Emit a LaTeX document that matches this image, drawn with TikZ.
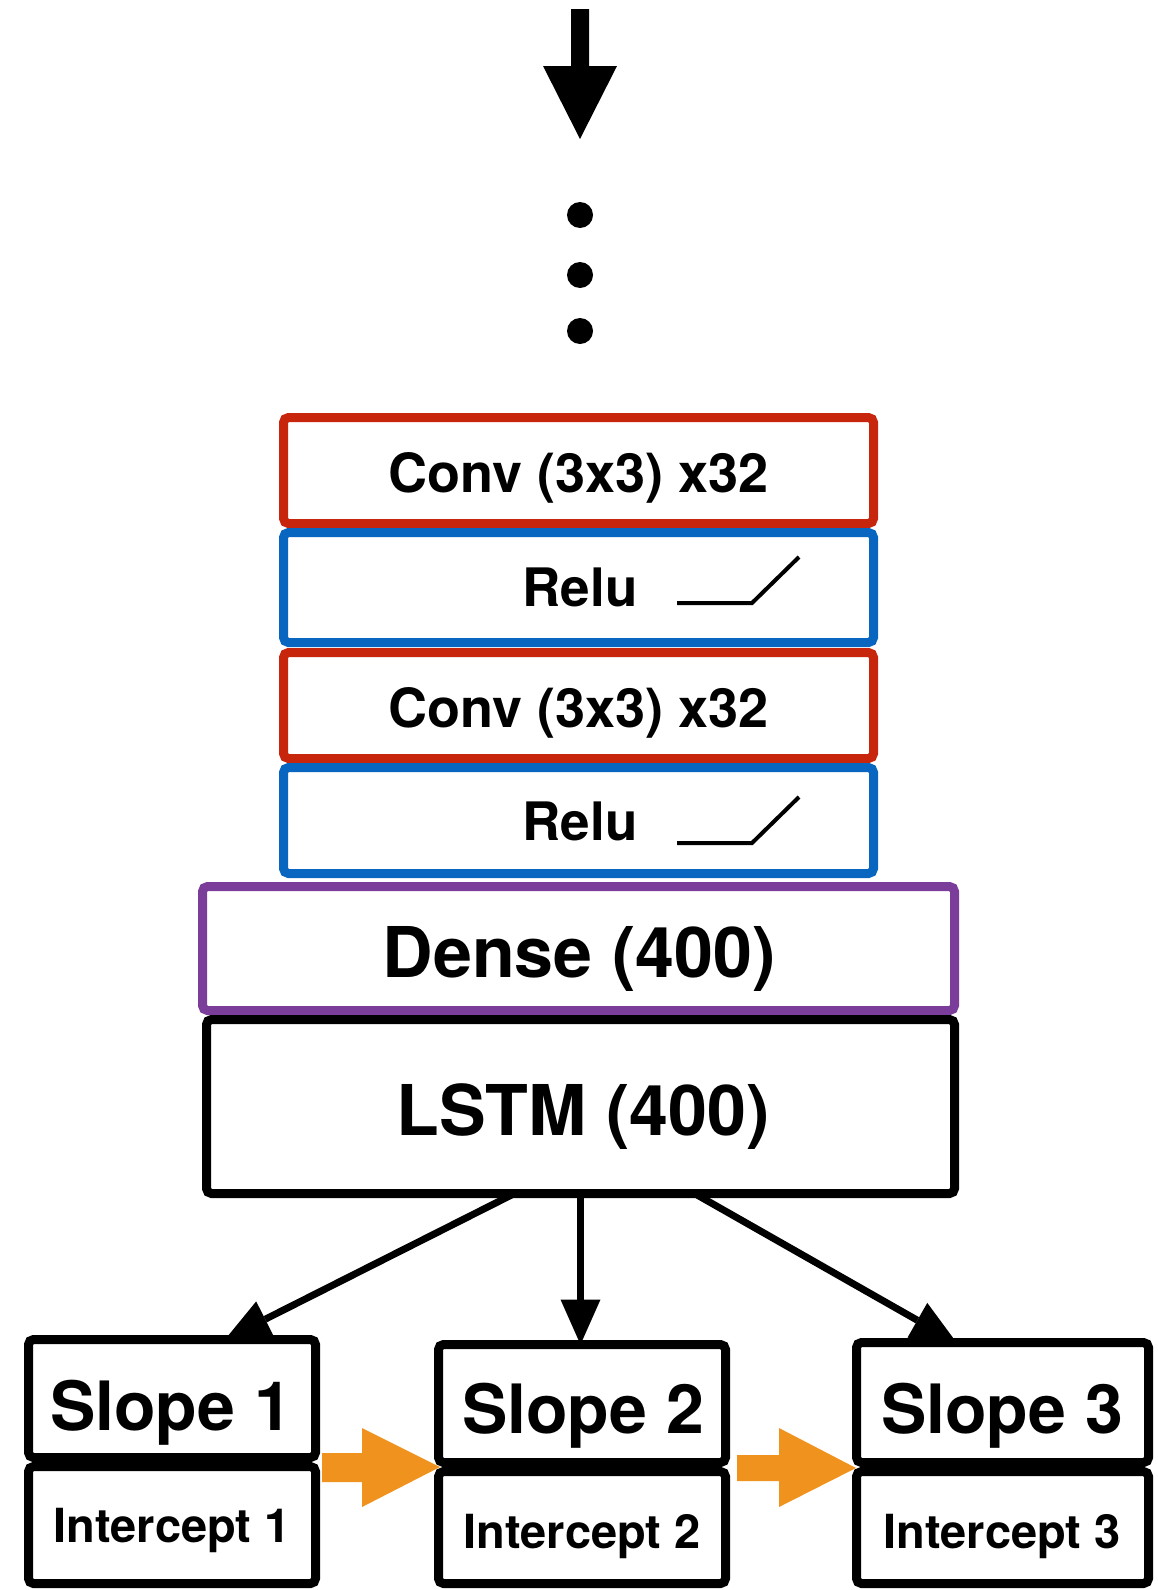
\documentclass[tikz,border=0pt]{standalone}
\usepackage{fontspec}
\setmainfont{TeX Gyre Heros}
\usetikzlibrary{arrows.meta,calc}
\definecolor{convred}{RGB}{200,38,12}
\definecolor{relublue}{RGB}{8,102,192}
\definecolor{densepurple}{RGB}{122,62,154}
\definecolor{flowor}{RGB}{240,147,30}
\newcommand\setfs[1]{\fontsize{#1}{#1}\selectfont\bfseries}
\begin{document}
\begin{tikzpicture}[x=1pt,y=-1pt,
 layer/.style={draw, line width=9pt, rounded corners=5pt, fill=white, inner sep=0pt, outer sep=0pt},
 lbl/.style={anchor=base, inner sep=0pt, outer sep=0pt},
 conn/.style={line width=7pt, -{Triangle[width=40pt,length=45pt,line width=0pt]}},
 relusym/.style={line width=4pt},
 dotn/.style={circle, fill=black, inner sep=0pt, minimum size=26pt},
 flow/.style={fill=flowor},
]
\path[use as bounding box] (0,0) rectangle (1157,1590);

% top arrow and dots
\coordinate (topin) at (580,9);
\fill (topin) ++(-9,0) -- ++(18,0) -- ++(0,57) -- ++(28,0) -- ++(-37,73) -- ++(-37,-73) -- ++(28,0) -- cycle;
\node[dotn] (d1) at (580,215) {};
\node[dotn] (d2) at (580,275) {};
\node[dotn] (d3) at (580,331) {};

% layer boxes
\node[layer, draw=convred, minimum width=590pt, minimum height=106pt] (conv1) at (578.5,470.5) {};
\node[layer, draw=relublue, minimum width=590pt, minimum height=110pt] (relu1) at (578.5,587.5) {};
\node[layer, draw=convred, minimum width=590pt, minimum height=106pt] (conv2) at (578.5,705.5) {};
\node[layer, draw=relublue, minimum width=590pt, minimum height=106pt] (relu2) at (578.5,820.5) {};
\node[layer, draw=densepurple, minimum width=752pt, minimum height=124pt] (dense) at (578.5,948.5) {};
\node[layer, draw=black, minimum width=748pt, minimum height=174pt] (lstm) at (580.5,1106.5) {};

\node[layer, draw=black, minimum width=287pt, minimum height=118pt] (slope1) at (172,1398.5) {};
\node[layer, draw=black, minimum width=287pt, minimum height=117pt] (int1) at (172,1525) {};
\node[layer, draw=black, minimum width=287pt, minimum height=118pt] (slope2) at (582,1403.5) {};
\node[layer, draw=black, minimum width=287pt, minimum height=112pt] (int2) at (582,1527.5) {};
\node[layer, draw=black, minimum width=292pt, minimum height=120pt] (slope3) at (1002.5,1402.5) {};
\node[layer, draw=black, minimum width=292pt, minimum height=112pt] (int3) at (1002.5,1527.5) {};

% labels
\node[lbl, font=\setfs{54}] (tconv1) at (578.5,492) {Conv (3x3) x32};
\node[lbl, font=\setfs{53}] (trelu1) at (580,606) {Relu};
\node[lbl, font=\setfs{54}] (tconv2) at (578.5,727) {Conv (3x3) x32};
\node[lbl, font=\setfs{53}] (trelu2) at (580,840) {Relu};
\node[lbl, font=\setfs{70}] (tdense) at (579,977) {Dense (400)};
\node[lbl, font=\setfs{70}] (tlstm) at (583,1135) {LSTM (400)};
\node[lbl, font=\setfs{68}] (ts1) at (171,1430) {Slope 1};
\node[lbl, font=\setfs{47}] (ti1) at (172,1542) {Intercept 1};
\node[lbl, font=\setfs{68}] (ts2) at (583,1433) {Slope 2};
\node[lbl, font=\setfs{47}] (ti2) at (582,1548) {Intercept 2};
\node[lbl, font=\setfs{68}] (ts3) at (1002,1433) {Slope 3};
\node[lbl, font=\setfs{47}] (ti3) at (1002,1548) {Intercept 3};

% relu glyphs
\draw[relusym] (677,603) -- (752,603) -- (799,557);
\draw[relusym] (677,843) -- (752,843) -- (799,797);

% connectors
\draw[conn] ($(lstm.south)+(-66,0)$) -- ($(slope1.north)+(53,0)$);
\draw[conn] (lstm.south) -- (lstm.south |- slope2.north);
\draw[conn] ($(lstm.south)+(114,0)$) -- ($(slope3.north)+(-46,0)$);

% orange flow arrows
\coordinate (o1) at ($(slope1.south east)+(6.5,9.5)$);
\fill[flow] (o1) ++(0,-14) -- ++(40,0) -- ++(0,-25) -- ++(78,39) -- ++(-78,40) -- ++(0,-25) -- ++(-40,0) -- cycle;
\coordinate (o2) at ($(slope2.south east)+(11.5,5.5)$);
\fill[flow] (o2) ++(0,-13) -- ++(42,0) -- ++(0,-27) -- ++(77,40) -- ++(-77,39) -- ++(0,-26) -- ++(-42,0) -- cycle;
\end{tikzpicture}
\end{document}
